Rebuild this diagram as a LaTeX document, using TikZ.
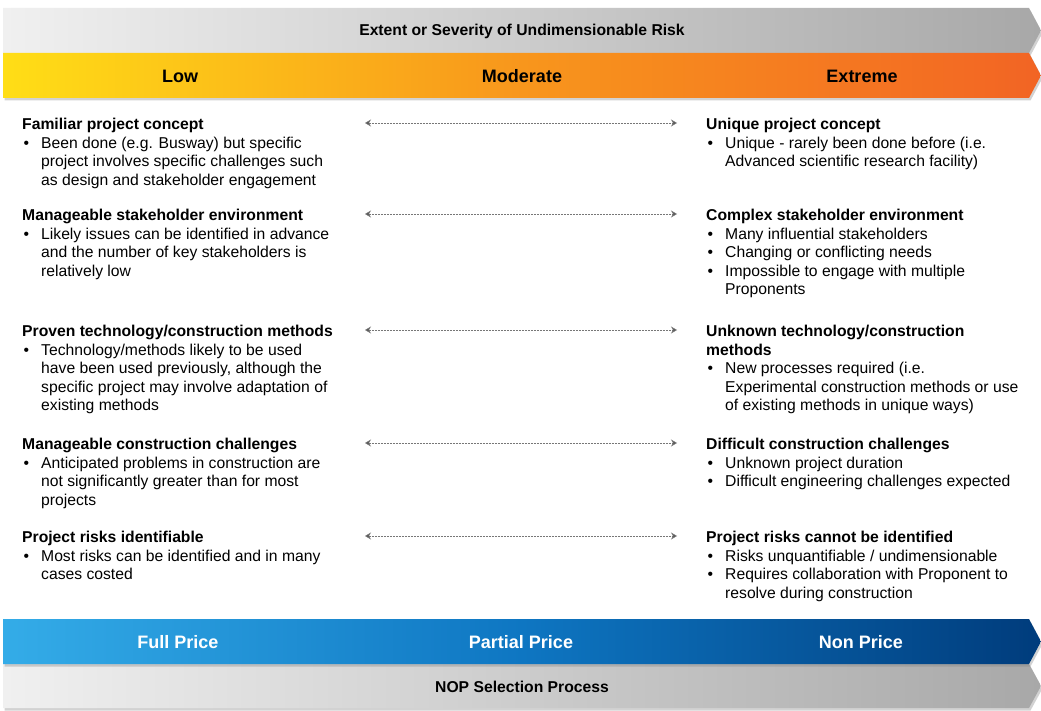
\documentclass[tikz,border=0pt]{standalone}
\usepackage{fontspec}
\setmainfont{Liberation Sans}
\usetikzlibrary{arrows.meta,shadows}
\definecolor{gL}{RGB}{240,240,240}
\definecolor{gR}{RGB}{168,168,168}
\definecolor{oL}{RGB}{255,222,22}
\definecolor{oM}{RGB}{248,150,28}
\definecolor{oR}{RGB}{242,100,36}
\definecolor{bL}{RGB}{52,172,232}
\definecolor{bM}{RGB}{14,118,194}
\definecolor{bR}{RGB}{0,60,124}
\definecolor{arr}{RGB}{85,85,85}
\newcommand{\bl}[1]{\makebox[19pt][l]{\hspace*{1.5pt}\textbullet}#1}
\newcommand{\ct}[1]{\hspace*{19pt}#1}
\newcommand{\bR}[1]{\makebox[19pt][l]{\hspace*{1.5pt}\textbullet}#1}
\newcommand{\cR}[1]{\hspace*{19pt}#1}
\tikzset{
  bar/.style={drop shadow={opacity=0.35,shadow xshift=1.5pt,shadow yshift=-2.5pt}},
  blk/.style={anchor=north west,inner sep=0pt,align=left,font=\fontsize{15.7}{18.5}\selectfont},
  hdr/.style={inner sep=0pt,font=\fontsize{15.7}{18}\selectfont\bfseries},
  lvl/.style={inner sep=0pt,font=\fontsize{18}{20}\selectfont\bfseries},
  rng/.style={draw=arr!80,line width=0.6pt,dash pattern=on 2pt off 1pt,
     {Stealth[length=6pt,width=7pt,fill=arr]}-{Stealth[length=6pt,width=7pt,fill=arr]}}
}
\begin{document}
\begin{tikzpicture}[x=1pt,y=-1pt]
\useasboundingbox (0,0) rectangle (1041,711);
\fill[white] (0,0) rectangle (1041,711);
% top bars
\path[bar,left color=gL,right color=gR] (3,8) -- (1029,8) -- (1041,30.5) -- (1029,53) -- (3,53) -- cycle;
\path[bar,left color=oL,right color=oR,middle color=oM] (3,53) -- (1029,53) -- (1041,75.5) -- (1029,98) -- (3,98) -- cycle;
% bottom bars
\path[bar,left color=gL,right color=gR] (3,664) -- (1029,664) -- (1041,686) -- (1029,708) -- (3,708) -- cycle;
\path[bar,left color=bL,right color=bR,middle color=bM] (3,619) -- (1029,619) -- (1041,641.5) -- (1029,664) -- (3,664) -- cycle;

\node[hdr] (ext) at (522,31) {Extent or Severity of Undimensionable Risk};
\node[lvl] (low) at (180,76) {Low};
\node[lvl] (mod) at (522,76) {Moderate};
\node[lvl] (exm) at (862,76) {Extreme};
\node[lvl,text=white] (fp) at (178,642) {Full Price};
\node[lvl,text=white] (pp) at (521,642) {Partial Price};
\node[lvl,text=white] (np) at (861,642) {Non Price};
\node[hdr] (nop) at (522,687) {NOP Selection Process};

% left column
\node[blk] (l1) at (22,118) {\textbf{Familiar project concept}\\
\bl{Been done (e.g. Busway) but specific}\\
\ct{project involves specific challenges such}\\
\ct{as design and stakeholder  engagement}};
\node[blk] (l2) at (22,209) {\textbf{Manageable stakeholder environment}\\
\bl{Likely issues can be identified in advance}\\
\ct{and the number of key stakeholders is}\\
\ct{relatively low}};
\node[blk] (l3) at (22,325) {\textbf{Proven technology/construction methods}\\
\bl{Technology/methods likely to be used}\\
\ct{have been  used previously, although the}\\
\ct{specific project may involve adaptation of}\\
\ct{existing methods}};
\node[blk] (l4) at (22,438) {\textbf{Manageable construction challenges}\\
\bl{Anticipated problems in construction are}\\
\ct{not significantly greater than for most}\\
\ct{projects}};
\node[blk] (l5) at (22,531) {\textbf{Project risks identifiable}\\
\bl{Most risks can be identified and in many}\\
\ct{cases costed}};

% right column
\node[blk] (r1) at (706,118) {\textbf{Unique project concept}\\
\bR{Unique - rarely been done before (i.e.}\\
\cR{Advanced scientific research facility)}};
\node[blk] (r2) at (706,209) {\textbf{Complex stakeholder environment}\\
\bR{Many influential stakeholders}\\
\bR{Changing or conflicting needs}\\
\bR{Impossible to engage with multiple}\\
\cR{Proponents}};
\node[blk] (r3) at (706,325) {\textbf{Unknown technology/construction}\\
\textbf{methods}\\
\bR{New processes required (i.e.}\\
\cR{Experimental construction methods or use}\\
\cR{of existing methods in unique ways)}};
\node[blk] (r4) at (706,438) {\textbf{Difficult construction challenges}\\
\bR{Unknown project duration}\\
\bR{Difficult engineering challenges expected}};
\node[blk] (r5) at (706,531) {\textbf{Project risks cannot be identified}\\
\bR{Risks unquantifiable / undimensionable}\\
\bR{Requires collaboration with Proponent to}\\
\cR{resolve during construction}};

% range arrows
\foreach \i/\y in {1/123,2/214,3/330,4/443,5/536}{
  \coordinate (a\i) at (365,\y);
  \coordinate (b\i) at (677,\y);
  \draw[rng] (a\i) -- (b\i);
}
\end{tikzpicture}
\end{document}
